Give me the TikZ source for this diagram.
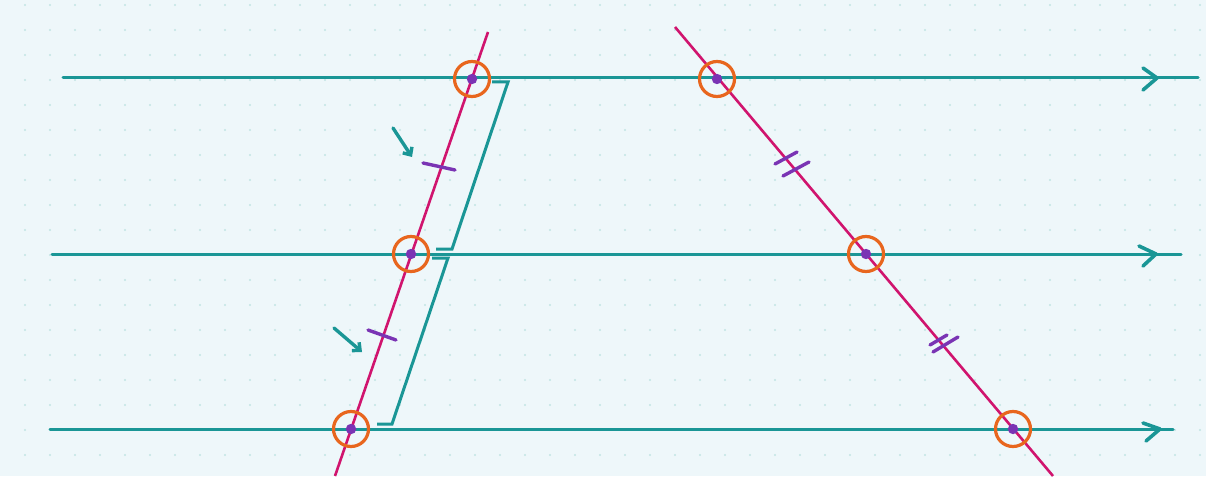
\documentclass[tikz,border=0pt]{standalone}
\usetikzlibrary{arrows.meta}
\definecolor{paper}{HTML}{EEF7FA}
\definecolor{griddot}{HTML}{C2E4E4}
\definecolor{parline}{HTML}{1A9696}
\definecolor{transline}{HTML}{D0146E}
\definecolor{ringcol}{HTML}{E8661E}
\definecolor{markcol}{HTML}{7A34B4}
\tikzset{
  parallel/.style={parline,line width=3pt,line cap=round},
  transversal/.style={transline,line width=2.6pt},
  ring/.style={circle,draw=ringcol,line width=3.2pt,minimum size=35pt,inner sep=0pt},
  tick/.style={markcol,line width=3.4pt,line cap=round},
  chevron/.style={parline,line width=3.6pt,line cap=round,line join=round},
  bracket/.style={parline,line width=3pt},
  pointer/.style={parline,line width=3.4pt,line cap=round,-{Straight Barb[length=6pt,width=11pt]}}
}
\begin{document}
\begin{tikzpicture}[x=1pt,y=-1pt]
            \fill[paper] (0,0) rectangle (1206,476);
            \useasboundingbox (0,0) rectangle (1206,476);
            \foreach \x in {25,50,...,1200}
                \foreach \y in {5,30,...,470}
                    \fill[griddot] (\x,\y) circle (1.1);
            % ends of the parallel lines
            \coordinate (l1) at (63,78);
            \coordinate (r1) at (1198,78);
            \coordinate (l2) at (52,254);
            \coordinate (r2) at (1181,254);
            \coordinate (l3) at (50,429);
            \coordinate (r3) at (1173,429);
            % ends of the transversals
            \coordinate (t1) at (488,32);
            \coordinate (b1) at (335,476);
            \coordinate (t2) at (675,27);
            \coordinate (b2) at (1053,476);
            \draw[parallel] (l1) -- (r1);
            \draw[parallel] (l2) -- (r2);
            \draw[parallel] (l3) -- (r3);
            \draw[transversal] (t1) -- (b1);
            \draw[transversal] (t2) -- (b2);
            % arrow marks on the parallels
            \draw[chevron] (1143,68) -- (1157,78) -- (1143,90);
            \draw[chevron] (1139,246) -- (1156,254) -- (1143,266);
            \draw[chevron] (1143,423) -- (1160,429) -- (1146,441);
            % brackets beside the left transversal
            \draw[bracket] (492,82) -- (508,82) -- (452,249) -- (436,249);
            \draw[bracket] (432,258) -- (448,258) -- (392,424) -- (377,424);
            % equal segment marks
            \draw[tick] (423,163) -- (455,170);
            \draw[tick] (368,330) -- (396,340);
            \draw[tick] (775,164) -- (797,152);
            \draw[tick] (783,176) -- (809,162);
            \draw[tick] (930,345) -- (947,335);
            \draw[tick] (933,352) -- (958,337);
            \draw[pointer] (393,128) -- (412,157);
            \draw[pointer] (334,328) -- (362,352);
            % intersection points
            \begin{scope}[every node/.style={ring}]
                \node (A) at (472,79) {};
                \node (B) at (411,254) {};
                \node (C) at (351,429) {};
                \node (D) at (717,79) {};
                \node (E) at (866,254) {};
                \node (F) at (1013,429) {};
            \end{scope}
            \foreach \p in {A,B,C,D,E,F}
                \fill[markcol] (\p.center) circle (5.2);
        \end{tikzpicture}
\end{document}
